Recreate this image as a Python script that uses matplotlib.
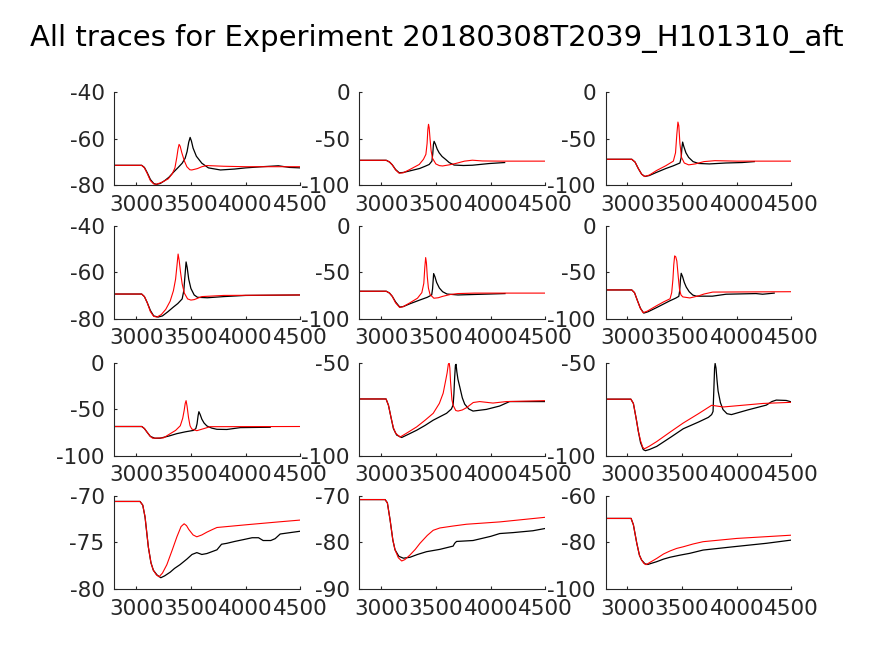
import matplotlib
matplotlib.use("Agg")
import matplotlib.pyplot as plt

plt.rcParams["axes.unicode_minus"] = False

titulo = "All traces for Experiment 20180308T2039_H101310_aft"

xticks = [3000, 3500, 4000, 4500]

# panel 1 (fila 1, col 1)
t_k1 = [2800, 3050, 3075, 3100, 3130, 3160, 3185, 3220, 3260, 3300, 3340, 3380, 3420, 3447, 3465, 3480, 3493, 3505, 3520, 3550, 3600, 3660, 3770, 3900, 4000, 4150, 4300, 4400, 4500]
v_k1 = [-71.4, -71.4, -72.3, -74.5, -77.5, -79.2, -79.6, -79.2, -78, -76.5, -74.4, -72.5, -70.5, -68.4, -65.5, -61.5, -59.4, -61, -64, -67.5, -70.5, -72.5, -73.4, -73, -72.5, -72, -71.6, -72.3, -72.5]
t_r1 = [2800, 3050, 3075, 3100, 3130, 3160, 3180, 3230, 3293, 3330, 3354, 3371, 3382, 3392, 3402, 3417, 3440, 3463, 3490, 3508, 3560, 3600, 3645, 3800, 4000, 4500]
v_r1 = [-71.4, -71.4, -72.5, -74.8, -78, -79.4, -79.6, -78.8, -77.2, -75, -72.5, -68, -64.5, -62.4, -63.2, -66, -69.5, -72, -73.3, -73.4, -72.8, -72, -71.5, -71.8, -72, -72]

# panel 2
t_k2 = [2800, 3045, 3075, 3100, 3130, 3163, 3200, 3260, 3350, 3400, 3437, 3462, 3470, 3476, 3482, 3495, 3510, 3528, 3555, 3589, 3620, 3665, 3750, 3832, 3984, 4127]
v_k2 = [-73.1, -73.1, -75, -78, -83, -86.5, -86.2, -84.5, -81.9, -79.5, -77.6, -74, -66, -56, -52.7, -56, -61, -65, -69, -72.3, -75.5, -78.2, -78.7, -78.4, -76.6, -75.5]
t_r2 = [2800, 3045, 3075, 3100, 3130, 3163, 3200, 3260, 3346, 3385, 3407, 3418, 3425, 3431, 3437, 3445, 3455, 3468, 3498, 3530, 3559, 3620, 3680, 3760, 3832, 3923, 4100, 4500]
v_r2 = [-73.1, -73.1, -75, -78, -83.5, -87, -86.5, -83, -77.6, -72, -66.7, -55, -40, -34.4, -38, -50, -63, -71, -77, -78.8, -79.2, -78, -76.5, -74, -73, -73.8, -74, -74]

# panel 3
t_k3 = [2800, 3040, 3070, 3100, 3130, 3160, 3200, 3268, 3350, 3420, 3480, 3492, 3498, 3505, 3515, 3535, 3560, 3600, 3650, 3750, 3900, 4050, 4160]
v_k3 = [-72, -72, -75, -82, -88, -90.5, -89.5, -86, -82, -79, -76, -70, -60, -53.5, -58, -65, -70, -74.5, -76.5, -77, -76, -75.5, -74.5]
t_r3 = [2800, 3040, 3070, 3100, 3130, 3155, 3200, 3268, 3350, 3420, 3440, 3452, 3462, 3470, 3480, 3495, 3520, 3560, 3620, 3700, 3800, 4000, 4500]
v_r3 = [-72, -72, -75, -82, -88, -90.5, -89, -84, -79, -74, -65, -45, -32, -36, -55, -70, -76, -78, -77, -74.5, -73.5, -74, -74]

# panel 4
t_k4 = [2800, 3050, 3075, 3100, 3130, 3160, 3200, 3240, 3290, 3340, 3380, 3420, 3435, 3445, 3456, 3466, 3480, 3500, 3530, 3560, 3650, 3800, 4000, 4500]
v_k4 = [-69.4, -69.4, -70.5, -73, -76.5, -78.8, -79.3, -78.8, -77, -75, -73.5, -71.5, -68, -62, -55.6, -58, -63, -67, -69.8, -70.8, -71, -70.5, -70, -69.8]
t_r4 = [2800, 3050, 3075, 3100, 3130, 3160, 3190, 3230, 3270, 3310, 3340, 3360, 3373, 3383, 3393, 3405, 3420, 3440, 3470, 3500, 3530, 3600, 3800, 4500]
v_r4 = [-69.4, -69.4, -70.5, -73, -77, -79, -79.3, -78.2, -76, -72.5, -68, -63, -57, -52.2, -55, -60, -65, -69, -71.5, -72, -71.8, -70.5, -70, -69.8]

# panel 5
t_k5 = [2800, 3045, 3075, 3100, 3130, 3168, 3200, 3260, 3350, 3420, 3460, 3468, 3474, 3478, 3490, 3505, 3530, 3560, 3600, 3700, 3900, 4130]
v_k5 = [-70.5, -70.5, -72.5, -76, -82, -87.5, -87, -84, -80, -77, -74.5, -68, -58, -51.5, -55, -61, -67, -71, -73.5, -74.5, -73.8, -73]
t_r5 = [2800, 3045, 3075, 3100, 3130, 3168, 3200, 3260, 3330, 3370, 3388, 3397, 3405, 3412, 3420, 3430, 3445, 3480, 3520, 3560, 3630, 3700, 3850, 4500]
v_r5 = [-70.5, -70.5, -72.5, -76, -83, -88, -87, -83, -78, -72, -62, -45, -34.3, -40, -55, -67, -74, -78, -77.5, -76, -74, -73, -72.5, -72.5]

# panel 6
t_k6 = [2800, 3040, 3065, 3090, 3120, 3150, 3190, 3268, 3386, 3440, 3470, 3478, 3485, 3492, 3505, 3520, 3538, 3565, 3598, 3629, 3777, 3902, 4175, 4236, 4342]
v_k6 = [-69.1, -69.1, -72, -80, -89, -94, -92.5, -88, -80.9, -78, -76, -70, -58, -51.2, -55, -61, -66, -71, -74.6, -75.8, -75.8, -73.7, -73, -73.7, -72.5]
t_r6 = [2800, 3040, 3065, 3090, 3115, 3143, 3180, 3268, 3330, 3390, 3405, 3416, 3424, 3432, 3442, 3452, 3465, 3477, 3490, 3507, 3571, 3650, 3700, 3780, 4500]
v_r6 = [-69.1, -69.1, -72, -80, -88, -93.5, -92, -86, -82, -78.6, -72, -58, -42, -32.5, -33.5, -38, -55, -69, -74.5, -76.6, -77.7, -75.5, -73.5, -71.4, -71]

# panel 7
t_k7 = [2800, 3051, 3075, 3100, 3130, 3170, 3218, 3300, 3371, 3450, 3523, 3545, 3556, 3566, 3573, 3585, 3600, 3620, 3646, 3690, 3737, 3829, 3951, 4225]
v_k7 = [-68.8, -68.8, -71, -75, -79.5, -81.4, -81.4, -79, -76.5, -74.5, -73, -71, -66, -57, -52.9, -56, -60.9, -65, -68.2, -70.5, -71.8, -72, -70, -69.6]
t_r7 = [2800, 3051, 3075, 3100, 3125, 3150, 3250, 3311, 3360, 3403, 3425, 3438, 3448, 3456, 3465, 3478, 3492, 3508, 3554, 3620, 3676, 4500]
v_r7 = [-68.8, -68.8, -71, -75, -79, -81.4, -81, -76.5, -73, -68, -60, -51.8, -44, -41, -47, -59, -68, -71.5, -73.3, -71, -69, -68.8]

# panel 8
t_k8 = [2800, 3043, 3065, 3090, 3110, 3140, 3186, 3250, 3323, 3400, 3474, 3540, 3596, 3640, 3656, 3663, 3670, 3677, 3683, 3690, 3700, 3717, 3740, 3762, 3800, 3838, 3960, 4081, 4172, 4500]
v_k8 = [-69.6, -69.6, -73, -80, -85.5, -89, -90.3, -88.5, -86.4, -83.8, -81, -79, -77.3, -75, -72.8, -67, -58, -51.5, -51, -55, -59, -63.2, -69, -72.4, -75, -76.1, -75.2, -73.4, -71, -71]
t_r8 = [2800, 3043, 3065, 3090, 3110, 3130, 3171, 3230, 3323, 3400, 3474, 3530, 3565, 3590, 3601, 3612, 3620, 3626, 3632, 3645, 3656, 3680, 3701, 3740, 3778, 3840, 3899, 4020, 4142, 4500]
v_r8 = [-69.6, -69.6, -73, -80, -85, -88, -90.1, -88, -84.6, -81, -77.3, -72, -66.5, -59, -55.6, -51, -50, -53, -60, -70, -73, -75.8, -76.1, -75.5, -74.3, -71.5, -71, -71.8, -71, -70.5]

# panel 9
t_k9 = [2800, 3032, 3055, 3080, 3100, 3120, 3145, 3165, 3200, 3268, 3400, 3511, 3650, 3740, 3770, 3783, 3790, 3797, 3802, 3810, 3820, 3829, 3850, 3874, 3910, 3951, 4100, 4270, 4320, 4361, 4452, 4500]
v_k9 = [-69.7, -69.7, -72, -80, -87, -93, -96.8, -97.4, -96.8, -95.1, -90, -85.6, -82, -79.5, -78, -76.3, -65, -53, -50.5, -53, -60, -65.3, -71.5, -75.3, -77.5, -78, -75.5, -72.9, -71, -70.2, -70.4, -71.2]
t_r9 = [2800, 3032, 3055, 3080, 3100, 3120, 3140, 3155, 3200, 3268, 3400, 3511, 3650, 3770, 3876, 4241, 4500]
v_r9 = [-69.7, -69.7, -72, -80, -87, -92, -95.5, -96.4, -95, -92.5, -87, -82.5, -77.5, -73, -73.9, -72, -71.4]

# panel 10
t_k10 = [2800, 3035, 3060, 3081, 3111, 3135, 3157, 3190, 3225, 3260, 3311, 3350, 3400, 3463, 3510, 3554, 3600, 3646, 3738, 3780, 3829, 3900, 3981, 4060, 4118, 4160, 4230, 4270, 4316, 4438, 4500]
v_k10 = [-70.6, -70.6, -71, -72.3, -75.5, -77.2, -78, -78.5, -78.8, -78.6, -78.2, -77.8, -77.4, -76.8, -76.3, -76.1, -76.3, -76.2, -75.8, -75.2, -75.1, -74.9, -74.7, -74.5, -74.5, -74.8, -74.8, -74.6, -74.1, -73.9, -73.8]
t_r10 = [2800, 3035, 3060, 3081, 3111, 3135, 3157, 3185, 3209, 3240, 3280, 3330, 3372, 3410, 3438, 3460, 3480, 3520, 3554, 3600, 3646, 3700, 3738, 4012, 4300, 4500]
v_r10 = [-70.6, -70.6, -71, -72.25, -75.5, -77.2, -78, -78.5, -78.7, -78.3, -77.4, -75.8, -74.4, -73.3, -73, -73.2, -73.6, -74.2, -74.4, -74.2, -73.9, -73.6, -73.4, -73.1, -72.8, -72.6]

# panel 11
t_k11 = [2800, 3034, 3055, 3080, 3105, 3125, 3160, 3201, 3262, 3330, 3413, 3535, 3656, 3670, 3687, 3838, 4000, 4082, 4203, 4385, 4500]
v_k11 = [-70.8, -70.8, -71.5, -75.2, -79.5, -81.6, -83, -83.4, -83.2, -82.6, -82, -81.5, -80.8, -80.2, -79.8, -79.6, -78.7, -78.1, -77.9, -77.5, -77]
t_r11 = [2800, 3034, 3055, 3080, 3105, 3125, 3155, 3186, 3215, 3262, 3310, 3353, 3420, 3474, 3535, 3650, 3778, 4082, 4500]
v_r11 = [-70.8, -70.8, -71.5, -75.2, -79.5, -81.6, -83.3, -84, -83.7, -82.7, -81.5, -80.2, -78.5, -77.4, -76.9, -76.5, -76.1, -75.6, -74.6]

# panel 12
t_k12 = [2800, 3034, 3055, 3086, 3110, 3130, 3160, 3186, 3220, 3268, 3330, 3389, 3480, 3571, 3692, 3965, 4270, 4500]
v_k12 = [-69.7, -69.7, -72.5, -80.4, -85.5, -87.6, -89.2, -89.5, -89, -88.3, -87.2, -86.4, -85.5, -84.7, -83.3, -81.9, -80.4, -79]
t_r12 = [2800, 3034, 3055, 3086, 3110, 3130, 3150, 3171, 3210, 3268, 3330, 3389, 3450, 3510, 3600, 3692, 4000, 4500]
v_r12 = [-69.7, -69.7, -72.5, -80.4, -85.5, -87.6, -89, -89.6, -88.5, -86.9, -85, -83.7, -82.6, -81.9, -80.7, -79.7, -78.3, -76.9]

negros = [(t_k1, v_k1), (t_k2, v_k2), (t_k3, v_k3), (t_k4, v_k4), (t_k5, v_k5), (t_k6, v_k6),
          (t_k7, v_k7), (t_k8, v_k8), (t_k9, v_k9), (t_k10, v_k10), (t_k11, v_k11), (t_k12, v_k12)]
rojos = [(t_r1, v_r1), (t_r2, v_r2), (t_r3, v_r3), (t_r4, v_r4), (t_r5, v_r5), (t_r6, v_r6),
         (t_r7, v_r7), (t_r8, v_r8), (t_r9, v_r9), (t_r10, v_r10), (t_r11, v_r11), (t_r12, v_r12)]

yticks = [[-80, -60, -40], [-100, -50, 0], [-100, -50, 0],
          [-80, -60, -40], [-100, -50, 0], [-100, -50, 0],
          [-100, -50, 0], [-100, -50], [-100, -50],
          [-80, -75, -70], [-90, -80, -70], [-100, -80, -60]]

gris = "#262626"
izq = [0.1308, 0.4113, 0.6928]
abajo = [0.7175, 0.5142, 0.3056, 0.1023]
ancho = 0.2128
alto = 0.1418

fig = plt.figure(figsize=(8.74, 6.56), dpi=100)
for i in range(12):
    fila, col = divmod(i, 3)
    ax = fig.add_axes([izq[col], abajo[fila], ancho, alto])
    ax.plot(negros[i][0], negros[i][1], color="black", lw=0.9)
    ax.plot(rojos[i][0], rojos[i][1], color="red", lw=0.8)
    ax.set_xlim(2800, 4500)
    ax.set_ylim(yticks[i][0], yticks[i][-1])
    ax.set_xticks(xticks)
    ax.set_yticks(yticks[i])
    for lado in ["top", "right"]:
        ax.spines[lado].set_visible(False)
    for lado in ["left", "bottom"]:
        ax.spines[lado].set_color(gris)
        ax.spines[lado].set_linewidth(0.8)
    ax.tick_params(direction="in", length=2.5, width=0.8, color=gris,
                   labelcolor=gris, labelsize=15.5, pad=7)

fig.text(0.5, 0.93, titulo, ha="center", va="baseline", fontsize=21, color="black")
fig.savefig("out.png", dpi=100)
